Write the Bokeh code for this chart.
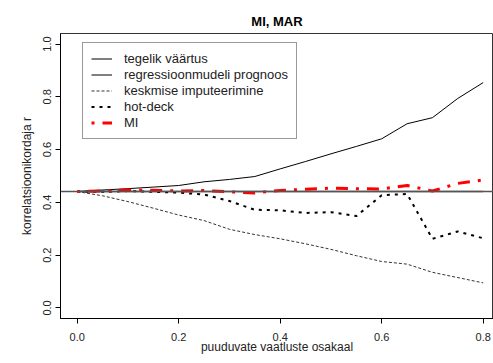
from bokeh.plotting import figure
from bokeh.models import (Range1d, Span, FixedTicker, Legend, LegendItem,
                          PrintfTickFormatter)
from bokeh.embed import file_html
from bokeh.resources import INLINE

# ---- data ----
missing_share = [0.0, 0.05, 0.10, 0.15, 0.20, 0.25, 0.30, 0.35, 0.40, 0.45,
                 0.50, 0.55, 0.60, 0.65, 0.70, 0.75, 0.80]
true_value = 0.441
regression = [0.441, 0.447, 0.452, 0.458, 0.464, 0.478, 0.487, 0.498, 0.527, 0.555,
              0.584, 0.612, 0.641, 0.698, 0.721, 0.794, 0.854]
mean_imp = [0.441, 0.425, 0.403, 0.378, 0.352, 0.331, 0.298, 0.278, 0.262, 0.243,
            0.222, 0.198, 0.176, 0.166, 0.135, 0.115, 0.095]
hot_deck = [0.441, 0.440, 0.443, 0.440, 0.437, 0.430, 0.405, 0.372, 0.370, 0.360,
            0.363, 0.348, 0.427, 0.432, 0.262, 0.290, 0.264]
mi = [0.441, 0.443, 0.447, 0.446, 0.443, 0.445, 0.440, 0.436, 0.445, 0.450,
      0.454, 0.452, 0.451, 0.464, 0.443, 0.472, 0.485]

x_ticks = [0.0, 0.2, 0.4, 0.6, 0.8]
y_ticks = [0.0, 0.2, 0.4, 0.6, 0.8, 1.0]

FONT = "Liberation Sans"

p = figure(width=493, height=363, output_backend="svg", toolbar_location=None,
           x_range=Range1d(-0.0329, 0.8203), y_range=Range1d(-0.04, 1.04),
           min_border_left=60, min_border_right=0, min_border_top=33, min_border_bottom=45,
           title="MI, MAR")
p.outline_line_color = "#333333"
p.outline_line_width = 1
p.xgrid.visible = False
p.ygrid.visible = False
p.background_fill_color = "white"
p.border_fill_color = "white"

p.title.align = "center"
p.title.offset = 3
p.title.text_font = FONT
p.title.text_font_size = "13px"
p.title.text_font_style = "bold"
p.title.text_color = "black"

for ax in (p.xaxis[0], p.yaxis[0]):
    ax.axis_line_color = "black"
    ax.axis_line_width = 1
    ax.major_tick_line_color = "black"
    ax.major_tick_in = 0
    ax.major_tick_out = 5
    ax.minor_tick_line_color = None
    ax.major_label_text_font = FONT
    ax.major_label_text_font_size = "11px"
    ax.major_label_text_color = "#222222"
    ax.axis_label_text_font = FONT
    ax.axis_label_text_font_size = "12px"
    ax.axis_label_text_font_style = "normal"
    ax.axis_label_text_color = "#222222"
    ax.formatter = PrintfTickFormatter(format="%.1f")

p.xaxis.ticker = FixedTicker(ticks=x_ticks)
p.yaxis.ticker = FixedTicker(ticks=y_ticks)
p.xaxis.axis_label = "puuduvate vaatluste osakaal"
p.yaxis.axis_label = "korrelatsioonikordaja r"
p.yaxis.major_label_orientation = "vertical"
p.xaxis.major_label_standoff = 9
p.yaxis.major_label_standoff = 4
p.xaxis.axis_label_standoff = -4
p.yaxis.axis_label_standoff = 7

# true value (abline across the whole frame) + same value as a legend line
p.add_layout(Span(location=true_value, dimension="width", line_color="#555555", line_width=1.5))
r_true = p.line(missing_share, [true_value] * len(missing_share),
                line_color="#555555", line_width=1.5)

r_reg = p.line(missing_share, regression, line_color="black", line_width=1)
r_mean = p.line(missing_share, mean_imp, line_color="#333333", line_width=1, line_dash="3 2")
r_hot = p.line(missing_share, hot_deck, line_color="black", line_width=2, line_dash="3 5")
r_mi = p.line(missing_share, mi, line_color="red", line_width=3, line_dash="3 8 12 8")

legend = Legend(items=[
    LegendItem(label="tegelik väärtus", renderers=[r_true]),
    LegendItem(label="regressioonmudeli prognoos", renderers=[r_reg]),
    LegendItem(label="keskmise imputeerimine", renderers=[r_mean]),
    LegendItem(label="hot-deck", renderers=[r_hot]),
    LegendItem(label="MI", renderers=[r_mi]),
], location=(22, 179))
legend.label_text_font = FONT
legend.label_text_font_size = "13px"
legend.label_text_color = "#222222"
legend.border_line_color = "#333333"
legend.border_line_width = 1
legend.background_fill_color = "white"
legend.background_fill_alpha = 1
legend.padding = 8
legend.margin = 0
legend.spacing = 1
legend.glyph_width = 21
legend.glyph_height = 15
legend.label_height = 15
legend.label_standoff = 12
p.add_layout(legend, "center")

open("out.html", "w").write(file_html(p, INLINE))
